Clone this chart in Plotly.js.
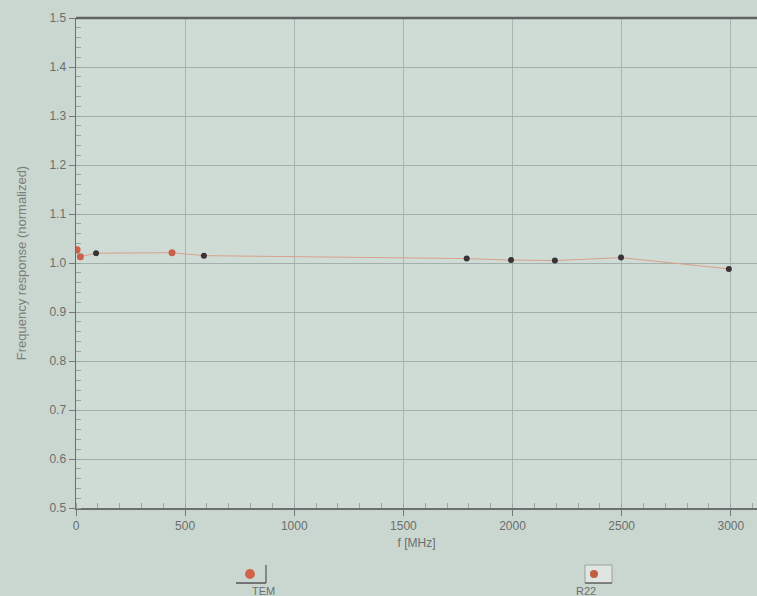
<!DOCTYPE html>
<html>
<head>
<meta charset="utf-8">
<script src="https://cdn.plot.ly/plotly-3.0.1.min.js"></script>
<style>html,body{margin:0;padding:0;background:#cbd8d2;}#chart{width:757px;height:596px;}</style>
</head>
<body>
<div id="chart"></div>
<script>
// TEM series (low-frequency points)
const temFreq = [5, 20, 440];
const temResp = [1.027, 1.013, 1.021];
// R22 series
const r22Freq = [92, 586, 1790, 1993, 2194, 2497, 2991];
const r22Resp = [1.020, 1.015, 1.009, 1.006, 1.005, 1.011, 0.988];
const seriesNames = ['TEM', 'R22'];
const xTickVals = [0, 500, 1000, 1500, 2000, 2500, 3000];
const yTickVals = [0.5, 0.6, 0.7, 0.8, 0.9, 1.0, 1.1, 1.2, 1.3, 1.4, 1.5];

// combined connecting line
const all = temFreq.map((f, i) => [f, temResp[i]]).concat(r22Freq.map((f, i) => [f, r22Resp[i]])).sort((a, b) => a[0] - b[0]);

const traces = [
  {x: all.map(p => p[0]), y: all.map(p => p[1]), mode: 'lines', line: {color: '#d9a08a', width: 1}, showlegend: false, hoverinfo: 'skip'},
  {x: temFreq, y: temResp, mode: 'markers', name: seriesNames[0], marker: {color: '#c8604a', size: 7}},
  {x: r22Freq, y: r22Resp, mode: 'markers', name: seriesNames[1], marker: {color: '#3a3236', size: 6}}
];

const axisFont = {family: 'Arial, Liberation Sans, sans-serif', size: 12, color: '#6a6e6c'};
const layout = {
  width: 757, height: 596,
  margin: {l: 76, r: 0, t: 18, b: 88},
  paper_bgcolor: '#cad7d1',
  plot_bgcolor: '#cfdcd6',
  showlegend: false,
  xaxis: {
    range: [0, 3120], tickvals: xTickVals, ticks: 'outside', ticklen: 6, tickcolor: '#777',
    showgrid: true, gridcolor: '#a9b5b0', gridwidth: 1,
    showline: true, linecolor: '#6b706e', linewidth: 1.5, zeroline: false,
    minor: {dtick: 100, ticks: 'inside', ticklen: 5, tickcolor: '#9aa5a0', showgrid: false},
    tickfont: axisFont,
    title: {text: 'f [MHz]', font: axisFont, standoff: 6}
  },
  yaxis: {
    range: [0.5, 1.5], tickvals: yTickVals, tickformat: '.1f', ticks: 'outside', ticklen: 6, tickcolor: '#777',
    showgrid: true, gridcolor: '#a3afaa', gridwidth: 1,
    showline: true, linecolor: '#6b706e', linewidth: 1.5, zeroline: false,
    minor: {dtick: 0.02, ticks: 'inside', ticklen: 5, tickcolor: '#9aa5a0', showgrid: false},
    tickfont: axisFont,
    title: {text: 'Frequency response (normalized)', font: {family: 'Arial, Liberation Sans, sans-serif', size: 13, color: '#7a7e7c'}, standoff: 20}
  },
  shapes: [
    {type: 'line', xref: 'paper', yref: 'paper', x0: 0, x1: 1, y0: 1, y1: 1, line: {color: '#5f6462', width: 2.5}},
    // legend symbol TEM
    {type: 'circle', xref: 'paper', yref: 'paper', x0: 0.2482, x1: 0.2628, y0: -0.145, y1: -0.1245, fillcolor: '#d0644a', line: {width: 0}},
    {type: 'line', xref: 'paper', yref: 'paper', x0: 0.235, x1: 0.279, y0: -0.1531, y1: -0.1531, line: {color: '#555', width: 1.5}},
    {type: 'line', xref: 'paper', yref: 'paper', x0: 0.279, x1: 0.279, y0: -0.1531, y1: -0.1163, line: {color: '#555', width: 1.2}},
    // legend symbol R22
    {type: 'rect', xref: 'paper', yref: 'paper', x0: 0.7474, x1: 0.7871, y0: -0.1531, y1: -0.1163, fillcolor: '#dfe6e2', line: {color: '#9aa29e', width: 1}},
    {type: 'circle', xref: 'paper', yref: 'paper', x0: 0.7547, x1: 0.7665, y0: -0.1429, y1: -0.1265, fillcolor: '#c0603f', line: {width: 0}},
    {type: 'line', xref: 'paper', yref: 'paper', x0: 0.7474, x1: 0.7871, y0: -0.1531, y1: -0.1531, line: {color: '#555', width: 1.2}}
  ],
  annotations: [
    {xref: 'paper', yref: 'paper', x: 0.2555, y: -0.154, yanchor: 'top', showarrow: false, text: seriesNames[0], font: {family: 'Arial, sans-serif', size: 11, color: '#6a6e6c'}},
    {xref: 'paper', yref: 'paper', x: 0.7672, y: -0.154, yanchor: 'top', showarrow: false, text: seriesNames[1], font: {family: 'Arial, sans-serif', size: 11, color: '#6a6e6c'}}
  ]
};
Plotly.newPlot('chart', traces, layout, {displayModeBar: false, staticPlot: true});
</script>
</body>
</html>
